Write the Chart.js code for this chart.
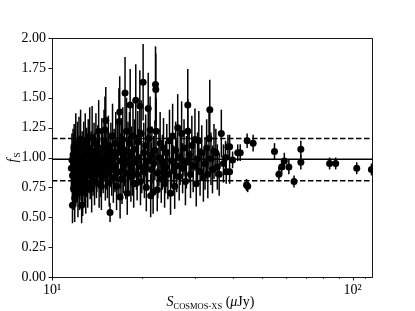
<!DOCTYPE html>
<html><head><meta charset="utf-8">
<script src="https://cdn.jsdelivr.net/npm/chart.js@4/dist/chart.umd.min.js"></script>
<style>html,body{margin:0;padding:0;background:#fff}#wrap{width:415px;height:311px}</style>
</head><body><div id="wrap"><canvas id="c" width="415" height="311"></canvas></div>
<script>
const xVals = [11.6,11.65,11.7,11.7,11.75,11.8,11.8,11.85,11.9,11.9,11.95,12.0,12.0,12.05,12.1,12.15,12.2,12.2,12.25,12.3,12.35,12.4,12.45,12.5,12.55,12.6,12.65,12.7,12.75,12.8,12.85,12.9,12.95,13.0,13.05,13.1,13.15,13.2,13.3,13.35,13.4,13.5,13.55,13.6,13.65,13.7,13.8,13.85,13.9,14.0,14.05,14.1,14.2,14.3,14.35,14.4,14.5,14.6,14.65,14.7,14.8,14.9,15.0,15.05,15.1,15.15,15.25,15.3,15.4,15.5,15.6,15.6,15.7,15.8,15.9,16.0,16.1,16.2,16.3,16.4,16.5,16.6,16.7,16.8,16.85,16.9,17.0,17.1,17.2,17.3,17.4,17.5,17.6,17.7,17.8,17.9,18.0,18.1,18.2,18.3,18.4,18.5,18.6,18.7,18.8,19.0,19.1,19.2,19.3,19.4,19.6,19.7,19.8,19.9,20.1,20.2,20.3,20.5,20.6,20.8,20.9,21.0,21.2,21.3,21.4,21.5,21.7,21.8,22.0,22.1,22.15,22.2,22.4,22.5,22.7,22.9,23.1,23.3,23.5,23.7,23.9,24.1,24.3,24.6,24.8,25.0,25.2,25.4,25.6,25.8,26.0,26.2,26.5,26.7,27.0,27.2,27.5,27.8,28.0,28.3,28.3,28.6,28.9,29.2,29.5,29.9,30.2,30.5,30.8,31.1,31.5,31.9,32.3,32.7,33.0,33.3,33.5,33.8,34.2,34.6,35.1,35.5,36.0,36.6,37.2,37.8,38.0,38.5,39.0,39.0,39.9,41.5,42.3,44.6,44.4,44.8,46.7,55.0,56.9,58.1,59.3,61.4,63.9,67.3,67.3,83.9,87.9,103.3,115.6];
const yVals = [0.91,0.98,0.60,0.85,1.02,0.74,0.95,1.08,0.88,0.66,1.00,0.79,1.12,0.92,0.83,1.05,0.70,0.97,0.87,1.10,0.76,0.94,1.15,0.84,0.60,1.00,0.71,0.90,1.06,0.80,0.95,1.12,0.73,0.88,1.02,0.98,0.78,1.08,0.92,1.17,0.85,1.00,0.74,1.17,0.95,0.88,1.05,0.80,0.98,1.12,0.86,0.93,1.03,1.22,0.78,0.97,0.88,0.76,1.08,0.99,0.91,1.14,1.23,0.84,1.31,0.95,1.02,0.87,1.10,0.79,0.54,0.98,1.05,0.90,1.18,0.83,1.00,0.93,1.12,0.76,1.04,0.88,1.30,1.38,0.67,0.97,1.08,0.82,1.15,0.92,1.00,1.54,0.87,1.22,0.70,1.05,0.95,1.12,1.44,0.84,1.02,0.90,1.18,0.78,1.07,1.48,0.96,0.86,1.13,1.00,1.43,0.80,1.20,0.92,1.63,1.04,0.88,1.10,0.75,0.97,1.41,1.16,1.23,0.68,0.90,1.02,0.71,0.95,1.06,1.61,1.57,1.22,0.73,0.87,1.00,1.12,0.82,0.96,1.08,0.78,0.92,1.04,0.86,1.14,0.70,0.97,1.18,0.89,0.76,1.06,0.93,1.25,0.84,1.00,1.20,0.91,1.08,0.80,0.96,1.44,1.22,1.02,0.86,1.10,0.93,1.15,0.78,0.99,1.14,0.88,1.04,0.83,0.95,1.08,0.86,1.16,1.40,0.99,0.90,1.05,1.04,0.92,0.86,1.20,0.95,1.00,0.88,1.09,0.88,1.09,0.98,1.04,1.04,1.14,0.77,0.76,1.12,1.05,0.86,0.92,0.97,0.92,0.80,1.07,0.96,0.95,0.95,0.91,0.90];
const yErr = [0.20,0.22,0.15,0.20,0.22,0.18,0.25,0.20,0.22,0.20,0.23,0.20,0.25,0.22,0.21,0.25,0.20,0.22,0.20,0.24,0.20,0.22,0.25,0.20,0.15,0.22,0.20,0.22,0.24,0.20,0.22,0.25,0.20,0.21,0.23,0.22,0.20,0.24,0.22,0.25,0.20,0.22,0.20,0.26,0.22,0.20,0.24,0.20,0.23,0.25,0.20,0.22,0.24,0.26,0.20,0.22,0.21,0.20,0.25,0.22,0.21,0.26,0.28,0.20,0.28,0.22,0.23,0.21,0.25,0.20,0.08,0.23,0.24,0.22,0.27,0.21,0.24,0.22,0.26,0.20,0.24,0.22,0.28,0.30,0.18,0.23,0.25,0.21,0.27,0.22,0.24,0.30,0.22,0.28,0.18,0.25,0.23,0.26,0.30,0.21,0.24,0.22,0.27,0.20,0.25,0.30,0.23,0.22,0.26,0.24,0.30,0.20,0.28,0.22,0.32,0.25,0.22,0.26,0.20,0.23,0.30,0.27,0.28,0.18,0.22,0.24,0.18,0.23,0.25,0.32,0.30,0.28,0.18,0.21,0.24,0.26,0.20,0.23,0.25,0.20,0.22,0.24,0.21,0.26,0.18,0.22,0.27,0.21,0.19,0.24,0.22,0.28,0.20,0.23,0.27,0.21,0.24,0.20,0.22,0.30,0.27,0.23,0.20,0.25,0.22,0.26,0.19,0.22,0.25,0.20,0.23,0.20,0.22,0.24,0.20,0.26,0.25,0.22,0.20,0.23,0.20,0.19,0.18,0.20,0.16,0.14,0.10,0.10,0.10,0.10,0.07,0.07,0.07,0.06,0.05,0.05,0.07,0.07,0.06,0.06,0.07,0.06,0.05,0.07,0.06,0.05,0.05,0.05,0.05];
const medianLevel = 0.985;
const upperLevel = 1.16;
const lowerLevel = 0.805;
const xRange = [10, 117];
const yTickValues = [0,0.25,0.5,0.75,1.0,1.25,1.5,1.75,2.0];
const xMajorTicks = [10,100];
const xMinorTicks = [20,30,40,50,60,70,80,90,110];
const xTickLabels = {10:'10\u00B9',100:'10\u00B2'};

const points = xVals.map((x,i)=>({x:x,y:yVals[i]}));
const hline = v => [{x:xRange[0],y:v},{x:xRange[1],y:v}];

const serif = '"Liberation Serif", "DejaVu Serif", serif';

const decor = {
  id:'decor',
  beforeDatasetsDraw(chart){
    const {ctx, chartArea:a, scales:{x,y}} = chart;
    ctx.save();
    ctx.beginPath(); ctx.rect(a.left,a.top,a.right-a.left,a.bottom-a.top); ctx.clip();
    ctx.strokeStyle='#000'; ctx.lineWidth=1.5;
    xVals.forEach((xv,i)=>{
      const px = x.getPixelForValue(xv);
      ctx.beginPath();
      ctx.moveTo(px, y.getPixelForValue(yVals[i]-yErr[i]));
      ctx.lineTo(px, y.getPixelForValue(yVals[i]+yErr[i]));
      ctx.stroke();
    });
    ctx.restore();
  },
  afterDraw(chart){
    const {ctx, chartArea:a, scales:{x,y}} = chart;
    ctx.save();
    ctx.strokeStyle='#000'; ctx.lineWidth=0.9;
    ctx.strokeRect(a.left+0.5,a.top+0.5,a.right-a.left-1,a.bottom-a.top);
    yTickValues.forEach(v=>{const py=Math.round(y.getPixelForValue(v))+0.5;ctx.beginPath();ctx.moveTo(a.left-3.5,py);ctx.lineTo(a.left,py);ctx.stroke();});
    xMajorTicks.forEach(v=>{const px=Math.round(x.getPixelForValue(v))+0.5;ctx.beginPath();ctx.moveTo(px,a.bottom);ctx.lineTo(px,a.bottom+3.5);ctx.stroke();});
    ctx.lineWidth=0.7;
    xMinorTicks.forEach(v=>{const px=Math.round(x.getPixelForValue(v))+0.5;if(px>a.right)return;ctx.beginPath();ctx.moveTo(px,a.bottom);ctx.lineTo(px,a.bottom+2);ctx.stroke();});
    // y axis title
    ctx.fillStyle='#000';
    ctx.translate(13,(a.top+a.bottom)/2);
    ctx.rotate(-Math.PI/2);
    ctx.font='italic 14px '+serif;
    const fw=ctx.measureText('f').width;
    ctx.font='9px '+serif;
    const sw=ctx.measureText('S').width;
    let sx=-(fw+sw+1)/2;
    ctx.textBaseline='alphabetic';
    ctx.font='italic 14px '+serif; ctx.fillText('f',sx,4);
    ctx.font='9px '+serif; ctx.fillText('S',sx+fw+1,7);
    ctx.setTransform(1,0,0,1,0,0);
    // x axis title
    const parts=[['italic 14px '+serif,'S',0],['8.5px '+serif,'COSMOS-XS',3],['14px '+serif,' (',0],['italic 14px '+serif,'\u03BC',0],['14px '+serif,'Jy)',0]];
    let tw=0; parts.forEach(p=>{ctx.font=p[0];p.push(ctx.measureText(p[1]).width);tw+=p[3];});
    let cx=(a.left+a.right)/2 - tw/2 - 2, by=306;
    parts.forEach(p=>{ctx.font=p[0];ctx.fillText(p[1],cx,by+p[2]);cx+=p[3];});
    ctx.restore();
  }
};

new Chart(document.getElementById('c'),{
  type:'scatter',
  data:{datasets:[
    {type:'line',data:hline(medianLevel),borderColor:'#000',borderWidth:1.5,pointRadius:0,fill:false,order:0},
    {type:'line',data:hline(upperLevel),borderColor:'#000',borderWidth:1.5,borderDash:[5.5,2.5],pointRadius:0,fill:false,order:0},
    {type:'line',data:hline(lowerLevel),borderColor:'#000',borderWidth:1.5,borderDash:[5.5,2.5],pointRadius:0,fill:false,order:0},
    {data:points,backgroundColor:'#000',borderColor:'#000',pointRadius:3.5,pointBorderWidth:0,order:1}
  ]},
  options:{
    responsive:false,animation:false,
    layout:{padding:{top:38,right:42,left:0,bottom:0}},
    plugins:{legend:{display:false},tooltip:{enabled:false}},
    scales:{
      x:{type:'logarithmic',min:xRange[0],max:xRange[1],
        grid:{display:false,drawTicks:false,tickLength:0},border:{display:false},
        afterFit(s){s.height=34;},
        ticks:{autoSkip:false,maxRotation:0,padding:5,color:'#000',font:{family:serif,size:14},
          callback:(v)=>xTickLabels[v]||''}},
      y:{min:0,max:2,
        grid:{display:false,drawTicks:false,tickLength:0},border:{display:false},
        afterFit(s){s.width=52;},
        afterBuildTicks(s){s.ticks=yTickValues.map(v=>({value:v}));},
        ticks:{padding:6,color:'#000',font:{family:serif,size:14},callback:(v)=>Number(v).toFixed(2)}}
    }
  },
  plugins:[decor]
});
</script></body></html>
